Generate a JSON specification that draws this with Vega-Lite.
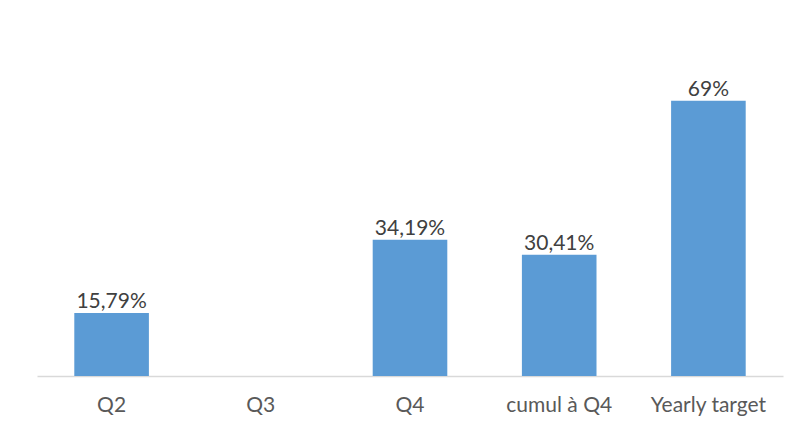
{
  "$schema": "https://vega.github.io/schema/vega-lite/v6.json",
  "width": 746,
  "height": 319,
  "padding": {"left": 37, "top": 57, "right": 12, "bottom": 63},
  "autosize": {"type": "none"},
  "background": "white",
  "config": {"view": {"stroke": null}, "font": "Lato"},
  "data": {"values": [
    {"cat": "Q2", "value": 15.79, "label": "15,79%"},
    {"cat": "Q3", "value": null, "label": ""},
    {"cat": "Q4", "value": 34.19, "label": "34,19%"},
    {"cat": "cumul à Q4", "value": 30.41, "label": "30,41%"},
    {"cat": "Yearly target", "value": 69, "label": "69%"}
  ]},
  "encoding": {
    "x": {"field": "cat", "type": "nominal", "sort": null,
      "scale": {"domain": ["Q2", "Q3", "Q4", "cumul à Q4", "Yearly target"], "paddingInner": 0.5, "paddingOuter": 0.25},
      "axis": {"title": null, "labelAngle": 0, "ticks": false, "domainColor": "#d9d9d9", "domainWidth": 1.5,
        "labelColor": "#595959", "labelFontSize": 21, "labelPadding": 18, "labelFont": "Lato"}},
    "y": {"field": "value", "type": "quantitative", "scale": {"domain": [0, 80]}, "axis": null}
  },
  "layer": [
    {"mark": {"type": "bar", "color": "#5b9bd5"}},
    {"mark": {"type": "text", "baseline": "alphabetic", "dy": -5, "fontSize": 21, "color": "#404040", "font": "Lato"},
     "encoding": {"text": {"field": "label"}}}
  ]
}
